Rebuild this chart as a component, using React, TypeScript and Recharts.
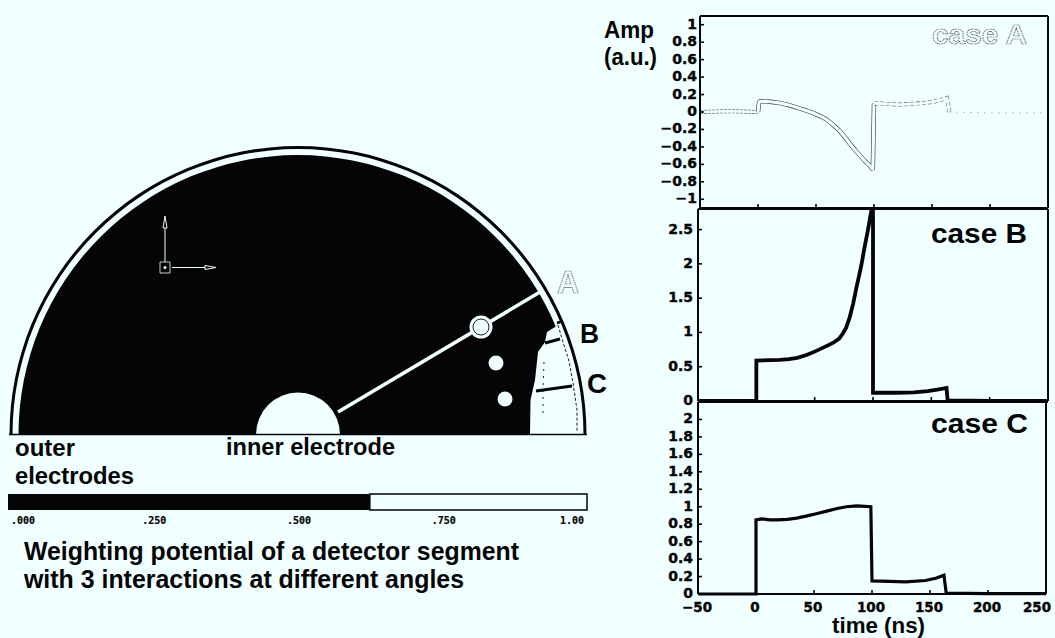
import React from "react";
import { LineChart, Line, XAxis, YAxis, PieChart, Pie, ComposedChart, Area, Scatter, BarChart, Bar } from "recharts";

const BG = "#F0FFFF";
const INK = "#050505";
const TICK_FONT = "'DejaVu Sans', sans-serif";
const TEXT_FONT = "'Liberation Sans', Arial, sans-serif";

// ---- signal panels (time in ns, amplitude in a.u.)
const timeTicks = [-50, 0, 50, 100, 150, 200, 250];
const ampTicksA = [1, 0.8, 0.6, 0.4, 0.2, 0, -0.2, -0.4, -0.6, -0.8, -1];
const ampTicksB = [0, 0.5, 1, 1.5, 2, 2.5];
const ampTicksC = [0, 0.2, 0.4, 0.6, 0.8, 1, 1.2, 1.4, 1.6, 1.8, 2];

const caseABefore = [{ t: -50, a: 0 }, { t: -25, a: 0.01 }, { t: 0, a: 0 }];
const caseAPulse = [
  { t: 0, a: 0 }, { t: 1, a: 0.12 }, { t: 6, a: 0.125 }, { t: 12, a: 0.115 }, { t: 18, a: 0.105 }, { t: 25, a: 0.085 }, { t: 30, a: 0.065 }, { t: 36, a: 0.04 },
  { t: 42, a: 0.015 }, { t: 48, a: -0.015 }, { t: 54, a: -0.05 }, { t: 59, a: -0.085 }, { t: 65, a: -0.15 }, { t: 70, a: -0.21 }, { t: 75, a: -0.29 },
  { t: 79, a: -0.36 }, { t: 84, a: -0.44 }, { t: 88, a: -0.5 }, { t: 92, a: -0.56 }, { t: 96, a: -0.61 }, { t: 99, a: -0.66 }, { t: 100, a: 0.1 },
];
const caseATail = [{ t: 100, a: 0.1 }, { t: 122, a: 0.085 }, { t: 140, a: 0.1 }, { t: 151, a: 0.115 }, { t: 163, a: 0.16 }, { t: 165, a: 0 }];
const caseAAfter = [{ t: 165, a: 0 }, { t: 200, a: -0.01 }, { t: 250, a: -0.01 }];

const caseB = [
  { t: -50, a: 0 }, { t: 0, a: 0 }, { t: 0, a: 0.59 }, { t: 20, a: 0.6 }, { t: 28, a: 0.61 }, { t: 35, a: 0.63 }, { t: 43, a: 0.67 }, { t: 50, a: 0.72 }, { t: 55, a: 0.76 }, { t: 60, a: 0.8 },
  { t: 66, a: 0.85 }, { t: 71, a: 0.91 }, { t: 74, a: 0.98 }, { t: 77, a: 1.07 }, { t: 80, a: 1.22 }, { t: 83, a: 1.42 }, { t: 86, a: 1.67 }, { t: 88, a: 1.82 }, { t: 90, a: 1.98 }, { t: 92, a: 2.17 }, { t: 94, a: 2.35 }, { t: 96, a: 2.52 }, { t: 97.5, a: 2.68 },
  { t: 99, a: 2.8 }, { t: 100, a: 2.8 }, { t: 100, a: 0.12 }, { t: 120, a: 0.12 }, { t: 135, a: 0.125 }, { t: 147, a: 0.145 }, { t: 155, a: 0.165 }, { t: 163, a: 0.19 },
  { t: 164, a: 0.01 }, { t: 200, a: 0 }, { t: 250, a: 0 },
];
const caseC = [
  { t: -50, a: 0 }, { t: 0, a: 0 }, { t: 0, a: 0.85 }, { t: 5, a: 0.86 }, { t: 12, a: 0.85 }, { t: 18, a: 0.85 }, { t: 27, a: 0.855 }, { t: 35, a: 0.87 }, { t: 44, a: 0.895 }, { t: 52, a: 0.92 }, { t: 61, a: 0.95 }, { t: 70, a: 0.98 }, { t: 78, a: 1.0 },
  { t: 87, a: 1.01 }, { t: 99, a: 1.0 }, { t: 100, a: 0.15 }, { t: 115, a: 0.145 }, { t: 129, a: 0.14 }, { t: 146, a: 0.155 }, { t: 155, a: 0.18 }, { t: 162, a: 0.215 },
  { t: 164, a: 0.01 }, { t: 200, a: 0.005 }, { t: 250, a: 0.005 },
];

// ---- colour scale
const scaleData = [{ name: "potential", dark: 0.625, light: 0.375 }];
const scaleTicks = [0, 0.25, 0.5, 0.75, 1];
const scaleLabels = [".000", ".250", ".500", ".750", "1.00"];

// ---- detector cross-section (units with origin on the detector axis)
const rimSlice = [{ value: 1 }];
const bulkSlice = [{ value: 1 }];
const lightRegion = [
  { x: 232, y: [0, 1] }, { x: 232.5, y: [0, 34] }, { x: 237, y: [0, 54] }, { x: 240, y: [0, 82] }, { x: 247, y: [0, 92] }, { x: 249, y: [0, 102] },
  { x: 257, y: [0, 107] }, { x: 260, y: [0, 109] }, { x: 262, y: [0, 101] }, { x: 270, y: [0, 84] }, { x: 276, y: [0, 60] }, { x: 280, y: [0, 25] }, { x: 281, y: [0, 1] },
];
const baseLine = [{ x: -289, y: -0.5 }, { x: 289, y: -0.5 }];
const trackA = [{ x: 40, y: 22 }, { x: 242, y: 142 }];
const stripB = [{ x: 247, y: 91 }, { x: 262, y: 95 }];
const stripBOuter = [{ x: 259, y: 111 }, { x: 265, y: 113 }];
const stripC = [{ x: 238, y: 43 }, { x: 274, y: 48 }];
const edgeOuter = [{ x: 260, y: 109 }, { x: 265, y: 92 }, { x: 271, y: 73 }, { x: 275, y: 51 }, { x: 279, y: 24 }, { x: 279, y: 2 }];
const edgeInner = [{ x: 246, y: 72 }, { x: 245, y: 44 }, { x: 245, y: 17 }];
const arrowUp = [{ x: -133, y: 172 }, { x: -133, y: 206 }, { x: -135, y: 206 }, { x: -133, y: 218 }, { x: -131, y: 206 }, { x: -133, y: 206 }];
const arrowRight = [{ x: -126, y: 166.5 }, { x: -93, y: 166.5 }, { x: -93, y: 168.5 }, { x: -82, y: 166.5 }, { x: -93, y: 164.5 }, { x: -93, y: 166.5 }];
const originBox = [{ x: -138, y: 172 }, { x: -128, y: 172 }, { x: -128, y: 161 }, { x: -138, y: 161 }, { x: -138, y: 172 }];
const originDot = [{ x: -133, y: 166.5 }];
const interactionA = [{ x: 183, y: 107 }];
const interactionsBC = [{ x: 198, y: 71 }, { x: 207, y: 35 }];
const specks = [{ x: 2.5, y: 270 }, { x: 334, y: -54 }];

const fmt = (v: number) => String(v).replace("-", "\u2212");

const LeftTick = (gap: number) => (p: any) => (
  <g>
    <line x1={p.x} x2={p.x + 4} y1={p.y} y2={p.y} stroke={INK} strokeWidth={1.6} />
    <text x={p.x - gap} y={p.y + 4} textAnchor="end" fontFamily={TICK_FONT} fontWeight="bold" fontSize={14} fill={INK} stroke={INK} strokeWidth={0.4}>{fmt(p.payload.value)}</text>
  </g>
);
const RightTick = (p: any) => <line x1={p.x} x2={p.x - 4} y1={p.y} y2={p.y} stroke={INK} strokeWidth={1.6} />;
const TopTick = (p: any) => <line x1={p.x} x2={p.x} y1={p.y} y2={p.y + 4} stroke={INK} strokeWidth={1.6} />;
const BottomTick = (p: any) => <line x1={p.x} x2={p.x} y1={p.y} y2={p.y - 4} stroke={INK} strokeWidth={1.6} />;
const BottomLabelTick = (p: any) => (
  <g>
    <line x1={p.x} x2={p.x} y1={p.y} y2={p.y - 4} stroke={INK} strokeWidth={1.6} />
    <text x={p.payload.value === 250 ? p.x - 9 : p.x - 1} y={p.y + 18} textAnchor="middle" fontFamily={TICK_FONT} fontWeight="bold" fontSize={13.5} fill={INK} stroke={INK} strokeWidth={0.4}>{fmt(p.payload.value)}</text>
  </g>
);

const axisLine = { stroke: INK, strokeWidth: 2 };

function Panel({ rect, domain, ticks, gap, bottomLabels, children }: any) {
  const { left, right, top, bottom } = rect;
  return (
    <div style={{ position: "absolute", left: 600, top: 0 }}>
      <LineChart width={455} height={638} margin={{ left: left - 601, right: 1054 - right, top: top - 1, bottom: 637 - bottom }}>
        <XAxis xAxisId={0} type="number" dataKey="t" domain={[-50, 250]} ticks={timeTicks} interval={0} height={1} orientation="bottom" axisLine={axisLine} tickLine={false} tickSize={0} tickMargin={0} tick={bottomLabels ? BottomLabelTick : BottomTick} allowDataOverflow />
        <XAxis xAxisId="top" type="number" domain={[-50, 250]} ticks={timeTicks} interval={0} height={1} orientation="top" axisLine={axisLine} tickLine={false} tickSize={0} tickMargin={0} tick={TopTick} />
        <YAxis yAxisId={0} type="number" dataKey="a" domain={domain} ticks={ticks} interval={0} width={1} orientation="left" axisLine={axisLine} tickLine={false} tickSize={0} tickMargin={0} tick={LeftTick(gap)} />
        <YAxis yAxisId="right" type="number" domain={domain} ticks={ticks} interval={0} width={1} orientation="right" axisLine={axisLine} tickLine={false} tickSize={0} tickMargin={0} tick={RightTick} />
        {children}
      </LineChart>
    </div>
  );
}

const line = (key: string, data: any[], stroke: string, width: number, dash?: string, join: any = "miter") => (
  <Line key={key} data={data} dataKey="a" type="linear" dot={false} stroke={stroke} strokeWidth={width} strokeDasharray={dash} strokeLinejoin={join} isAnimationActive={false} />
);

const pline = (key: string, data: any[], stroke: string, width: number, dash?: string) => (
  <Line key={key} data={data} dataKey="y" type="linear" dot={false} stroke={stroke} strokeWidth={width} strokeDasharray={dash} isAnimationActive={false} />
);

const T = ({ x, y, w, size = 24, children, outline }: any) => (
  <text x={x} y={y} textLength={w} lengthAdjust="spacingAndGlyphs" fontFamily={TEXT_FONT} fontWeight="bold" fontSize={size}
    fill={outline ? BG : INK} stroke={outline ? "#444" : "none"} strokeWidth={outline ? 0.7 : 0} strokeDasharray={outline ? "1.6 0.7" : undefined}>{children}</text>
);

export default function App() {
  return (
    <div style={{ position: "absolute", left: 0, top: 0, width: 1055, height: 638, background: BG, overflow: "hidden" }}>
      {/* detector */}
      <div style={{ position: "absolute", left: 0, top: 0 }}>
        <PieChart width={650} height={540} margin={{ left: 0, right: 0, top: 0, bottom: 0 }}>
          <Pie data={rimSlice} dataKey="value" cx={298} cy={434.5} startAngle={180} endAngle={0} innerRadius={285.5} outerRadius={288.5} fill={INK} stroke="none" isAnimationActive={false} />
          <Pie data={bulkSlice} dataKey="value" cx={298} cy={434.5} startAngle={180} endAngle={0} innerRadius={42} outerRadius={279.5} fill={INK} stroke="none" isAnimationActive={false} />
        </PieChart>
      </div>
      <div style={{ position: "absolute", left: 0, top: 0 }}>
        <ComposedChart width={650} height={540} margin={{ left: 0, right: 0, top: 0, bottom: 0 }}>
          <XAxis type="number" dataKey="x" domain={[-298, 352]} hide allowDataOverflow />
          <YAxis type="number" dataKey="y" domain={[-106, 434]} hide allowDataOverflow />
          <Area data={lightRegion} dataKey="y" type="linear" fill={BG} fillOpacity={1} stroke="none" isAnimationActive={false} />
          {pline("base", baseLine, INK, 1.6)}
          {pline("track", trackA, BG, 3.6)}
          {pline("stripB", stripB, INK, 3)}
          {pline("stripBO", stripBOuter, INK, 2.4)}
          {pline("stripC", stripC, INK, 3)}
          {pline("edgeO", edgeOuter, INK, 0.9, "3 2")}
          {pline("edgeI", edgeInner, INK, 0.9, "2 5")}
          {pline("up", arrowUp, BG, 1)}
          {pline("right", arrowRight, BG, 1)}
          {pline("box", originBox, BG, 0.8)}
          <Scatter data={originDot} dataKey="y" isAnimationActive={false} shape={(p: any) => <circle cx={p.cx} cy={p.cy} r={1.5} fill={BG} />} />
          <Scatter data={interactionA} dataKey="y" isAnimationActive={false} shape={(p: any) => (
            <g>
              <circle cx={p.cx} cy={p.cy} r={11.5} fill={BG} />
              <circle cx={p.cx} cy={p.cy} r={8} fill={BG} stroke="#222" strokeWidth={1} />
            </g>
          )} />
          <Scatter data={interactionsBC} dataKey="y" isAnimationActive={false} shape={(p: any) => <circle cx={p.cx} cy={p.cy} r={7.5} fill={BG} />} />
          <Scatter data={specks} dataKey="y" isAnimationActive={false} shape={(p: any) => <circle cx={p.cx} cy={p.cy} r={1.2} fill={p.y < 200 ? INK : BG} />} />
        </ComposedChart>
      </div>

      {/* colour scale */}
      <div style={{ position: "absolute", left: 0, top: 0 }}>
        <BarChart width={600} height={540} layout="vertical" data={scaleData} barCategoryGap={0} margin={{ left: 8, right: 13, top: 494, bottom: 29 }}>
          <XAxis type="number" domain={[0, 1]} ticks={scaleTicks} interval={0} height={1} axisLine={false} tickLine={false} tickSize={0} tickMargin={0}
            tick={(p: any) => {
              const i = scaleTicks.indexOf(p.payload.value);
              const anchor = i === 0 ? "start" : i === 4 ? "end" : "middle";
              const dx = i === 0 ? 3 : i === 4 ? -3 : 1.5;
              return <text x={p.x + dx} y={p.y + 14} textAnchor={anchor} fontFamily="'DejaVu Sans Mono', monospace" fontWeight="bold" fontSize={10} fill={INK} stroke={INK} strokeWidth={0.2}>{scaleLabels[i]}</text>;
            }} />
          <YAxis type="category" dataKey="name" width={0} hide />
          <Bar dataKey="dark" stackId="s" fill={INK} isAnimationActive={false} />
          <Bar dataKey="light" stackId="s" fill={BG} stroke={INK} strokeWidth={1.5} isAnimationActive={false} />
        </BarChart>
      </div>

      {/* signals */}
      <Panel rect={{ left: 700, right: 1048, top: 16, bottom: 208 }} domain={[-1.1, 1.1]} ticks={ampTicksA} gap={3}>
        {line("a1o", caseABefore, "#666", 4, "3 1")}
        {line("a1i", caseABefore, BG, 2.6)}
        {line("a2o", caseAPulse, "#333", 4.4, undefined, "bevel")}
        {line("a2i", caseAPulse, BG, 3.2, undefined, "bevel")}
        {line("a3o", caseATail, "#666", 4, "4 2")}
        {line("a3i", caseATail, BG, 2.8)}
        {line("a4o", caseAAfter, "#888", 1, "1 6")}
      </Panel>
      <Panel rect={{ left: 698, right: 1048, top: 209, bottom: 401 }} domain={[0, 2.8]} ticks={ampTicksB} gap={5}>
        {line("b", caseB, INK, 3.8)}
      </Panel>
      <Panel rect={{ left: 698, right: 1046, top: 402, bottom: 594 }} domain={[0, 2.2]} ticks={ampTicksC} gap={5} bottomLabels>
        {line("c", caseC, INK, 3.2)}
      </Panel>

      {/* annotations */}
      <svg width={1055} height={638} style={{ position: "absolute", left: 0, top: 0, pointerEvents: "none" }}>
        <T x={604} y={38} w={50} size={23}>Amp</T>
        <T x={604} y={65} w={53} size={23}>(a.u.)</T>
        <T x={932} y={44} w={95} size={28} outline>case A</T>
        <T x={931} y={243} w={96} size={28}>case B</T>
        <T x={931} y={433} w={97} size={28}>case C</T>
        <T x={557} y={293} w={22} size={31} outline>A</T>
        <T x={580} y={343} w={19} size={28}>B</T>
        <T x={587} y={393} w={20} size={28}>C</T>
        <T x={15} y={456} w={60}>outer</T>
        <T x={15} y={484} w={119}>electrodes</T>
        <T x={226} y={455} w={169}>inner electrode</T>
        <T x={832} y={633} w={93} size={22}>time (ns)</T>
        <T x={24} y={560} w={495} size={25}>Weighting potential of a detector segment</T>
        <T x={24} y={588} w={440} size={25}>with 3 interactions at different angles</T>
      </svg>
    </div>
  );
}
